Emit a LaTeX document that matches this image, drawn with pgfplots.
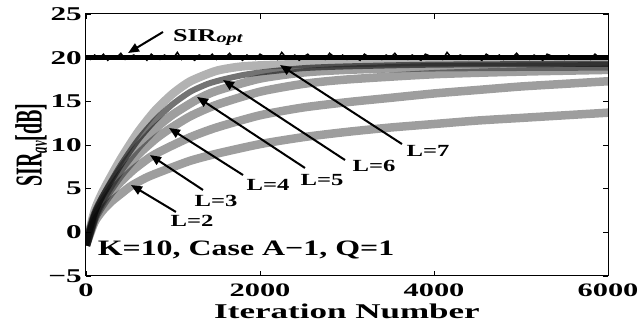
\documentclass[border=0pt]{standalone}
\usepackage{graphicx}
\usepackage{fontspec}
\setmainfont{Liberation Serif}[FakeStretch=1.45]
\newfontfamily\ylfont{Liberation Serif}
\newfontfamily\tickfont{Liberation Serif}[FakeStretch=1.6]
\usepackage{pgfplots}
\pgfplotsset{compat=1.18}
\usepackage{pgfplotstable}
\usetikzlibrary{arrows.meta}

\pgfplotstableread{
x y
0 -1.5
100 1.2
200 2.6
300 3.6
400 4.4
517 5.3
700 6.3
900 7.1
1200 8.2
1500 9.0
2000 10.1
2500 10.9
3000 11.5
3500 12.0
4000 12.4
4500 12.8
5000 13.1
5500 13.4
6000 13.7
}\Ltwo
\pgfplotstableread{
x y
0 -1.5
100 1.6
200 3.3
300 4.7
400 5.8
550 7.2
736 8.6
900 9.5
1200 10.9
1500 12.0
2000 13.4
2500 14.3
3000 14.9
3500 15.4
4000 15.9
4500 16.3
5000 16.7
5500 17.0
6000 17.3
}\Lthree
\pgfplotstableread{
x y
0 -1.5
100 1.8
200 3.7
400 6.6
600 8.9
800 10.7
954 11.8
1200 13.3
1500 14.6
2000 16.1
2500 17.0
3000 17.5
4000 18.1
5000 18.4
6000 18.6
}\Lfour
\pgfplotstableread{
x y
0 -1.5
100 2.0
200 4.0
400 7.2
600 9.8
800 11.9
1000 13.5
1276 15.2
1500 16.2
2000 17.6
2500 18.3
3000 18.6
4000 18.9
6000 19.0
}\Lfive
\pgfplotstableread{
x y
0 -1.5
100 2.2
200 4.3
400 7.7
600 10.6
800 12.9
1000 14.7
1200 16.1
1400 17.0
1575 17.5
1800 18.0
2000 18.3
2500 18.8
3000 19.0
4000 19.2
6000 19.3
}\Lsix
\pgfplotstableread{
x y
0 -1.5
100 2.5
200 4.8
400 8.4
600 11.5
800 14.0
1000 15.9
1200 17.3
1500 18.5
1800 19.0
2230 19.2
3000 19.4
4000 19.5
6000 19.5
}\Lseven
\pgfplotstableread{
x y
0 20.1
50 19.8
100 20.3
150 19.9
200 20.4
250 19.7
300 20.2
350 20.0
400 20.5
450 19.8
500 20.1
550 20.3
600 19.9
650 20.2
700 19.7
750 20.4
800 20.0
850 19.8
900 20.3
950 20.1
1000 19.9
1050 20.6
1100 19.8
1150 20.2
1200 20.0
1250 19.7
1300 20.3
1350 20.1
1400 19.9
1450 20.4
1500 19.8
1550 20.2
1600 20.0
1650 20.5
1700 19.9
1750 20.1
1800 19.7
1850 20.3
1900 20.0
1950 19.8
2000 20.4
2050 20.1
2100 19.9
2150 20.2
2200 19.8
2250 20.6
2300 20.0
2350 19.9
2400 20.3
2450 19.7
2500 20.1
2550 20.4
2600 19.9
2650 20.2
2700 20.0
2750 19.8
2800 20.5
2850 20.1
2900 19.9
2950 20.3
3000 19.8
3050 20.2
3100 20.0
3150 19.7
3200 20.4
3250 20.1
3300 19.9
3350 20.2
3400 19.8
3450 20.3
3500 20.0
3550 20.5
3600 19.9
3650 20.1
3700 19.8
3750 20.3
3800 20.0
3850 19.7
3900 20.4
3950 20.2
4000 19.9
4050 20.1
4100 19.8
4150 20.6
4200 20.0
4250 19.9
4300 20.3
4350 20.1
4400 19.8
4450 20.2
4500 20.0
4550 19.7
4600 20.4
4650 20.1
4700 19.9
4750 20.3
4800 19.8
4850 20.2
4900 20.0
4950 20.5
5000 19.9
5050 20.1
5100 19.8
5150 20.3
5200 20.0
5250 19.7
5300 20.4
5350 20.2
5400 19.9
5450 20.1
5500 19.8
5550 20.3
5600 20.0
5650 19.9
5700 20.2
5750 20.1
5800 19.8
5850 20.4
5900 20.0
5950 19.9
6000 20.1
}\SIRopt

\begin{document}
\begin{tikzpicture}
\begin{axis}[
  scale only axis, width=522pt, height=262pt,
  xmin=0, xmax=6000, ymin=-5, ymax=25,
  no markers,
  xtick={0,2000,4000,6000}, xticklabels={0,2000,4000,6000},
  ytick={-5,0,5,10,15,20,25}, yticklabels={−5,0,5,10,15,20,25},
  tick align=inside, major tick length=5pt,
  tick style={black, line width=0.8pt},
  axis line style={line width=1pt},
  xticklabel style={font=\fontsize{19}{19}\selectfont\tickfont\bfseries, anchor=base, yshift=-21pt},
  yticklabel style={font=\fontsize{19.5}{19.5}\selectfont\tickfont\bfseries, anchor=east, inner sep=0pt, xshift=-4pt},
  xlabel={\scalebox{1.15}[1]{Iteration Number}},
  xlabel style={font=\fontsize{21}{21}\selectfont\bfseries, at={(axis description cs:0.5,-0.162)}, anchor=base},
  ylabel={\scalebox{1}[1.9]{\ylfont\bfseries\fontsize{20}{20}\selectfont SIR\raisebox{-0.3ex}{\fontsize{12.5}{12.5}\selectfont\itshape av}[dB]}},
  ylabel style={at={(axis description cs:-0.105,0.5)}, anchor=center},
  clip mode=individual,
]
\addplot[black, line width=5pt] coordinates {(0,20) (6000,20)};
\addplot[black, line width=1.5pt] table {\SIRopt};
\addplot[black, opacity=0.38, line width=8.5pt, smooth, tension=0.4] table {\Ltwo};
\addplot[black, opacity=0.38, line width=8.5pt, smooth, tension=0.4] table {\Lthree};
\addplot[black, opacity=0.38, line width=8.5pt, smooth, tension=0.4] table {\Lfour};
\addplot[black, opacity=0.38, line width=8.5pt, smooth, tension=0.4] table {\Lfive};
\addplot[black, opacity=0.55, line width=6pt, smooth, tension=0.4] table {\Lsix};
\addplot[black, opacity=0.30, line width=8.5pt, smooth, tension=0.4] table {\Lseven};

\tikzset{ann/.style={line width=2pt, -{Triangle[length=11pt,width=9pt]}}}
\draw[ann] (axis cs:885,22.94) -- (axis cs:483,20.53);
\node[anchor=base west, font=\fontsize{18}{18}\selectfont\bfseries] at (axis cs:960,21.9) {SIR\raisebox{-0.2ex}{\fontsize{14}{14}\selectfont\itshape opt}};
\draw[ann] (axis cs:3632,10.11) -- (axis cs:2230,19.16);
\node[font=\fontsize{17}{17}\selectfont\bfseries] at (axis cs:3931,9.31) {L=7};
\draw[ann] (axis cs:2977,8.28) -- (axis cs:1575,17.44);
\node[font=\fontsize{17}{17}\selectfont\bfseries] at (axis cs:3310,7.6) {L=6};
\draw[ann] (axis cs:2517,7.37) -- (axis cs:1276,15.5);
\node[font=\fontsize{17}{17}\selectfont\bfseries] at (axis cs:2713,6.0) {L=5};
\draw[ann] (axis cs:1805,6.56) -- (axis cs:954,11.95);
\node[font=\fontsize{17}{17}\selectfont\bfseries] at (axis cs:2092,5.42) {L=4};
\draw[ann] (axis cs:1345,4.85) -- (axis cs:736,8.85);
\node[font=\fontsize{17}{17}\selectfont\bfseries] at (axis cs:1494,3.59) {L=3};
\draw[ann] (axis cs:1034,2.33) -- (axis cs:517,5.42);
\node[font=\fontsize{17}{17}\selectfont\bfseries] at (axis cs:1218,1.30) {L=2};
\node[font=\fontsize{22}{22}\selectfont\bfseries] at (axis cs:1839,-2.02) {K=10, Case A−1, Q=1};
\end{axis}
\pgfresetboundingbox
\path ([shift={(-86pt,-51pt)}]current axis.south west) rectangle ([shift={(31pt,14pt)}]current axis.north east);
\end{tikzpicture}
\end{document}
